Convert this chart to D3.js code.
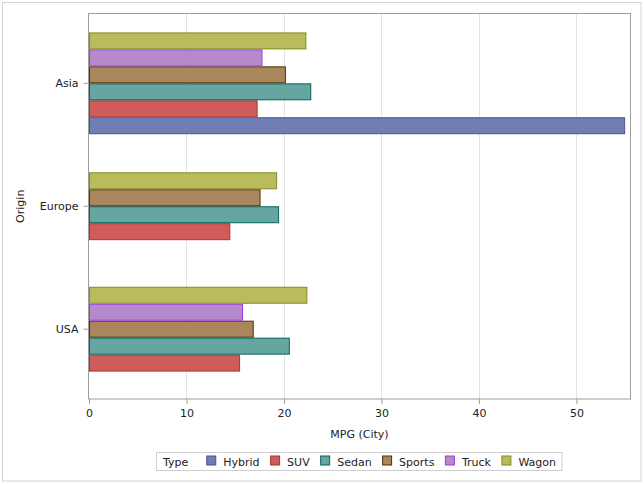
<!DOCTYPE html>
<html>
<head>
<meta charset="utf-8">
<script src="https://cdn.jsdelivr.net/npm/d3@7"></script>
<style>
  html, body { margin: 0; padding: 0; background: #fff; }
  svg { display: block; font-family: "DejaVu Sans", sans-serif; }
</style>
</head>
<body>
<svg id="chart" width="644" height="484"></svg>
<script>
// ---- data ----
const origins = ["Asia", "Europe", "USA"];
const types = ["Hybrid", "SUV", "Sedan", "Sports", "Truck", "Wagon"];
const asiaValues   = [55.0, 17.3, 22.8, 20.2, 17.8, 22.3];
const europeValues = [null, 14.5, 19.5, 17.6, null, 19.3];
const usaValues    = [null, 15.5, 20.6, 16.9, 15.8, 22.4];
const xTicks = [0, 10, 20, 30, 40, 50];
const fills   = ["#6F7EB3", "#D05B5B", "#66A5A0", "#A9865B", "#B689CD", "#BABC5C"];
const strokes = ["#445694", "#A23A2E", "#01665E", "#543005", "#9D3CDB", "#7F8E1F"];
const xTitle = "MPG (City)";
const yTitle = "Origin";
const legendTitle = "Type";

const valuesByOrigin = { "Asia": asiaValues, "Europe": europeValues, "USA": usaValues };

// ---- layout ----
const svg = d3.select("#chart");
const plot = { left: 89, right: 630, top: 13.5, bottom: 399 };
const textColor = "#222";

// outer border
svg.append("rect").attr("x", 2.5).attr("y", 2.5).attr("width", 638.5).attr("height", 478.5)
  .attr("fill", "none").attr("stroke", "#d3d3da").attr("stroke-width", 1);

const x = d3.scaleLinear().domain([0, 55.5]).range([plot.left, plot.right]);
const y = d3.scaleBand().domain(origins).range([plot.top, plot.bottom])
  .paddingInner(0).paddingOuter(0.068);
const barH = y.step() * 0.138;

// grid lines
svg.append("g").selectAll("line").data(xTicks.filter(t => t > 0)).join("line")
  .attr("x1", d => Math.round(x(d)) + 0.5).attr("x2", d => Math.round(x(d)) + 0.5)
  .attr("y1", plot.top).attr("y2", plot.bottom)
  .attr("stroke", "#e4e4e4").attr("stroke-width", 1);

// bars
const barData = [];
origins.forEach(o => {
  const vals = valuesByOrigin[o];
  const present = types.map((t, i) => ({ type: t, i, v: vals[i] })).filter(d => d.v != null);
  const n = present.length;
  const center = y(o) + y.bandwidth() / 2;
  const top = center - n * barH / 2;
  present.forEach((d, k) => {
    barData.push({ origin: o, type: d.type, i: d.i, v: d.v, y0: top + (n - 1 - k) * barH });
  });
});

svg.append("g").selectAll("rect").data(barData).join("rect")
  .attr("x", x(0) + 0.5)
  .attr("y", d => d.y0 + 0.5)
  .attr("width", d => x(d.v) - x(0) - 1)
  .attr("height", barH - 1)
  .attr("fill", d => fills[d.i])
  .attr("stroke", d => strokes[d.i])
  .attr("stroke-width", 1);

// frame
svg.append("rect").attr("x", plot.left - 0.5).attr("y", plot.top)
  .attr("width", plot.right - plot.left + 1).attr("height", plot.bottom - plot.top)
  .attr("fill", "none").attr("stroke", "#9d9d9d").attr("stroke-width", 1);

// x axis
const xAxis = d3.axisBottom(x).tickValues(xTicks).tickSize(5).tickPadding(5).tickSizeOuter(0);
const gx = svg.append("g").attr("transform", `translate(0,${plot.bottom})`).call(xAxis);
gx.select(".domain").remove();
gx.selectAll(".tick line").attr("stroke", "#9d9d9d");
gx.selectAll(".tick text").attr("fill", textColor).style("font-size", "11px")
  .style("font-family", "DejaVu Sans, sans-serif");

// y axis
const yAxis = d3.axisLeft(y).tickSize(5).tickPadding(5).tickSizeOuter(0);
const gy = svg.append("g").attr("transform", `translate(${plot.left - 0.5},0)`).call(yAxis);
gy.select(".domain").remove();
gy.selectAll(".tick line").attr("stroke", "#9d9d9d");
gy.selectAll(".tick text").attr("fill", textColor).style("font-size", "11px")
  .style("font-family", "DejaVu Sans, sans-serif");

// axis titles
svg.append("text").attr("x", (plot.left + plot.right) / 2).attr("y", 438)
  .attr("text-anchor", "middle").attr("fill", textColor).style("font-size", "11px").text(xTitle);
svg.append("text")
  .attr("transform", `translate(24,${(plot.top + plot.bottom) / 2}) rotate(-90)`)
  .attr("text-anchor", "middle").attr("fill", textColor).style("font-size", "11px").text(yTitle);

// legend
const lg = svg.append("g");
const legY = 461.5;
const lbox = lg.append("rect").attr("fill", "none").attr("stroke", "#cfcfcf").attr("stroke-width", 1);
let cx = 163;
const tt = lg.append("text").attr("x", cx).attr("y", legY + 4).attr("fill", textColor)
  .style("font-size", "11px").text(legendTitle);
cx += tt.node().getComputedTextLength() + 18;
let lastEnd = cx;
types.forEach((t, i) => {
  lg.append("rect").attr("x", cx + 0.5).attr("y", legY - 5.5).attr("width", 9).attr("height", 9)
    .attr("fill", fills[i]).attr("stroke", strokes[i]).attr("stroke-width", 1);
  const tx = lg.append("text").attr("x", cx + 17).attr("y", legY + 4).attr("fill", textColor)
    .style("font-size", "11px").text(t);
  lastEnd = cx + 17 + tx.node().getComputedTextLength();
  cx = lastEnd + 10.5;
});
lbox.attr("x", 156.5).attr("y", 452.5).attr("width", lastEnd + 6 - 156.5).attr("height", 18);
</script>
</body>
</html>
